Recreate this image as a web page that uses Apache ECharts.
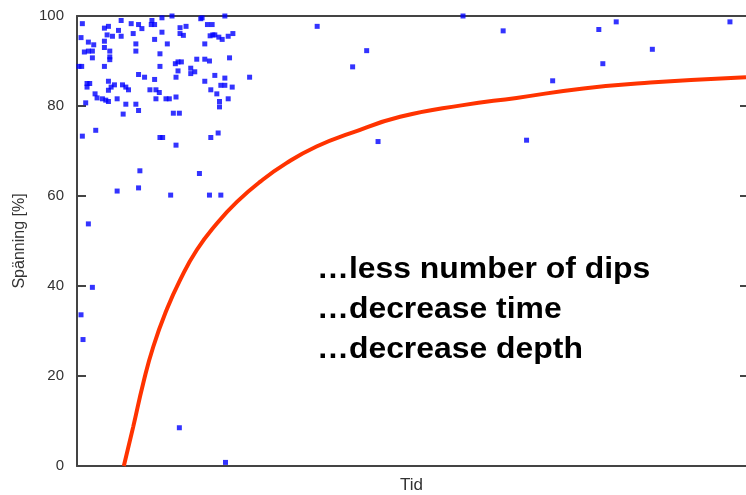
<!DOCTYPE html>
<html>
<head>
<meta charset="utf-8">
<title>Spänning</title>
<script src="https://cdn.jsdelivr.net/npm/echarts@6/dist/echarts.min.js"></script>
<style>
  html, body { margin: 0; padding: 0; background: #fff; }
  .chart1 { width: 746px; height: 495px; }
</style>
</head>
<body>
<div class="chart1"></div>
<script>
// dips (tid, spänning %)
var dipX = [0.8, 6.6, 8.1, 9.2, 9.7, 11.2, 11.1, 11.6, 12.7, 14.2, 15.4, 16.3, 18.5, 18.7, 19.5, 20.2, 22.1,
  4.1, 4.7, 6.2, 8.4, 12.7, 15.4, 15.9, 4.5, 5.3, 6.6, 0.6, 11.6, 19.9, 20.3, 20.6, 21.2, 21.7, 22.6, 23.3,
  4.1, 1.7, 2.5, 8.8, 13.5, 19.1, 4.1, 1.1, 1.7, 2.3, 4.9, 8.8, 12.4, 2.3, 4.9, 4.9, 17.9, 19.1, 19.8, 22.8,
  14.7, 15.1, 15.6, 0.3, 0.7, 4.1, 12.4, 17.0, 15.1, 17.0, 17.6, 9.2, 10.1, 14.8, 20.6, 25.8, 11.6, 4.7,
  19.1, 22.1, 1.5, 1.9, 1.5, 5.6, 5.1, 6.8, 7.3, 7.7, 4.7, 10.9, 11.8, 12.3, 21.5, 22.1, 23.2, 20.0, 20.9,
  2.7, 3.0, 3.8, 4.3, 4.7, 6.0, 11.8, 13.3, 13.8, 14.8, 21.3, 22.6, 1.3, 7.3, 8.8, 9.2, 21.3, 6.9, 14.4,
  15.3, 2.8, 0.8, 12.4, 12.8, 20.0, 21.1, 14.8, 9.4, 18.3, 6.0, 9.2, 14.0, 19.8, 21.5, 1.7, 2.3, 0.6, 0.9,
  15.3, 22.2,
  35.9, 43.3, 41.2, 45.0, 57.7, 63.7, 67.2, 71.1, 78.0, 80.6, 78.6, 86.0, 97.6];
var dipY = [98.3, 99.0, 98.3, 98.1, 97.2, 99.0, 98.1, 98.1, 99.6, 100, 97.4, 97.7, 99.4, 99.6, 98.1, 98.1, 100,
  97.3, 97.7, 96.8, 96.1, 96.4, 96.1, 95.7, 95.8, 95.5, 95.5, 95.2, 94.8, 95.6, 95.8, 95.8, 95.3, 94.8, 95.5, 96.1,
  94.4, 94.2, 93.6, 93.8, 93.8, 93.8, 93.0, 92.0, 92.2, 92.2, 92.2, 92.2, 91.6, 90.7, 90.9, 90.3, 90.4, 90.4, 90.0, 90.7,
  89.4, 89.8, 89.8, 88.8, 88.8, 88.8, 88.8, 88.4, 87.8, 87.2, 87.6, 87.0, 86.4, 86.4, 86.8, 86.4, 85.9, 85.5,
  85.5, 86.2, 85.0, 85.0, 84.2, 84.7, 84.2, 84.7, 84.2, 83.6, 83.5, 83.6, 83.6, 83.0, 84.6, 84.6, 84.2, 83.6, 82.7,
  82.7, 81.8, 81.6, 81.3, 81.0, 81.6, 81.6, 81.6, 81.6, 82.0, 81.0, 81.6, 80.7, 80.4, 80.4, 79.0, 79.8, 78.2, 78.4,
  78.4, 74.6, 73.3, 73.0, 73.0, 73.0, 74.0, 71.3, 65.6, 65.0, 61.1, 61.8, 60.2, 60.2, 60.2, 53.8, 39.7, 33.6, 28.1,
  8.5, 0.8,
  97.7, 92.3, 88.7, 72.1, 100, 96.7, 72.4, 85.6, 97.0, 98.7, 89.4, 92.6, 98.7];

// red trend curve
var curveX = [7.0, 8.4, 9.9, 11.4, 13.4, 15.4, 17.9, 20.9, 23.9, 27.4, 31.3, 35.8, 40.8, 48.3, 57.7, 65.7, 75.7, 85.7, 100];
var curveY = [0, 8.7, 18.4, 26.5, 34.7, 41.3, 48.0, 53.9, 58.7, 63.2, 67.3, 71.0, 73.9, 77.6, 80.2, 81.8, 83.9, 85.2, 86.4];

// y-axis ticks
var yTicks = [0, 20, 40, 60, 80, 100];

// annotation lines
var noteLines = ['\u2026less number of dips', '\u2026decrease time', '\u2026decrease depth'];

var dips = dipX.map(function (x, i) { return [x, dipY[i]]; });
var curve = curveX.map(function (x, i) { return [x, curveY[i]]; });

var echarts_1 = echarts.init(document.querySelector('.chart1'));

var axisColor = '#444';
var fontName = 'Liberation Sans, Arial, sans-serif';

var option1 = {
  animation: false,
  backgroundColor: '#fff',
  // fixed plot box, no auto shrinking for the axis names
  grid: { left: 77, right: 0, top: 16, bottom: 29, outerBoundsMode: 'none', containLabel: false },
  xAxis: [
    {
      type: 'value', min: 0, max: 100,
      name: 'Tid', nameLocation: 'middle', nameGap: 11,
      nameTextStyle: { color: '#333', fontSize: 17, fontFamily: fontName, verticalAlign: 'top' },
      axisLine: { show: true, onZero: false, lineStyle: { color: axisColor, width: 2 } },
      axisTick: { show: false }, axisLabel: { show: false }, splitLine: { show: false }
    },
    {
      // top border
      type: 'value', min: 0, max: 100, position: 'top',
      axisLine: { show: true, onZero: false, lineStyle: { color: axisColor, width: 2 } },
      axisTick: { show: false }, axisLabel: { show: false }, splitLine: { show: false }
    }
  ],
  yAxis: [
    {
      type: 'value', min: yTicks[0], max: yTicks[yTicks.length - 1], interval: yTicks[1] - yTicks[0],
      name: 'Spänning [%]', nameLocation: 'middle', nameGap: 44, nameRotate: 90,
      nameTextStyle: { color: '#333', fontSize: 16, fontFamily: fontName },
      axisLine: { show: true, onZero: false, lineStyle: { color: axisColor, width: 2 } },
      axisTick: { show: true, inside: true, length: 9, lineStyle: { color: axisColor, width: 2 } },
      axisLabel: { color: '#333', fontSize: 15, fontFamily: fontName, margin: 13 },
      splitLine: { show: false }
    },
    {
      // mirrored ticks on the right edge
      type: 'value', min: yTicks[0], max: yTicks[yTicks.length - 1], interval: yTicks[1] - yTicks[0],
      position: 'right',
      axisLine: { show: false, onZero: false },
      axisTick: { show: true, inside: true, length: 6, lineStyle: { color: axisColor, width: 2 } },
      axisLabel: { show: false }, splitLine: { show: false }
    }
  ],
  graphic: [{
    type: 'text',
    left: 317, top: 250,
    scaleX: 1.1,
    style: {
      text: noteLines.join('\n'),
      fill: '#000',
      font: 'bold 29px ' + fontName,
      lineHeight: 40
    }
  }],
  series: [
    {
      name: 'dips',
      type: 'scatter',
      symbol: 'rect',
      symbolSize: 5,
      itemStyle: { color: '#0000ff' },
      data: dips,
      z: 2
    },
    {
      name: 'trend',
      type: 'line',
      smooth: true,
      showSymbol: false,
      lineStyle: { color: '#ff3300', width: 4 },
      data: curve,
      z: 3
    }
  ]
};

echarts_1.setOption(option1);
</script>
</body>
</html>
